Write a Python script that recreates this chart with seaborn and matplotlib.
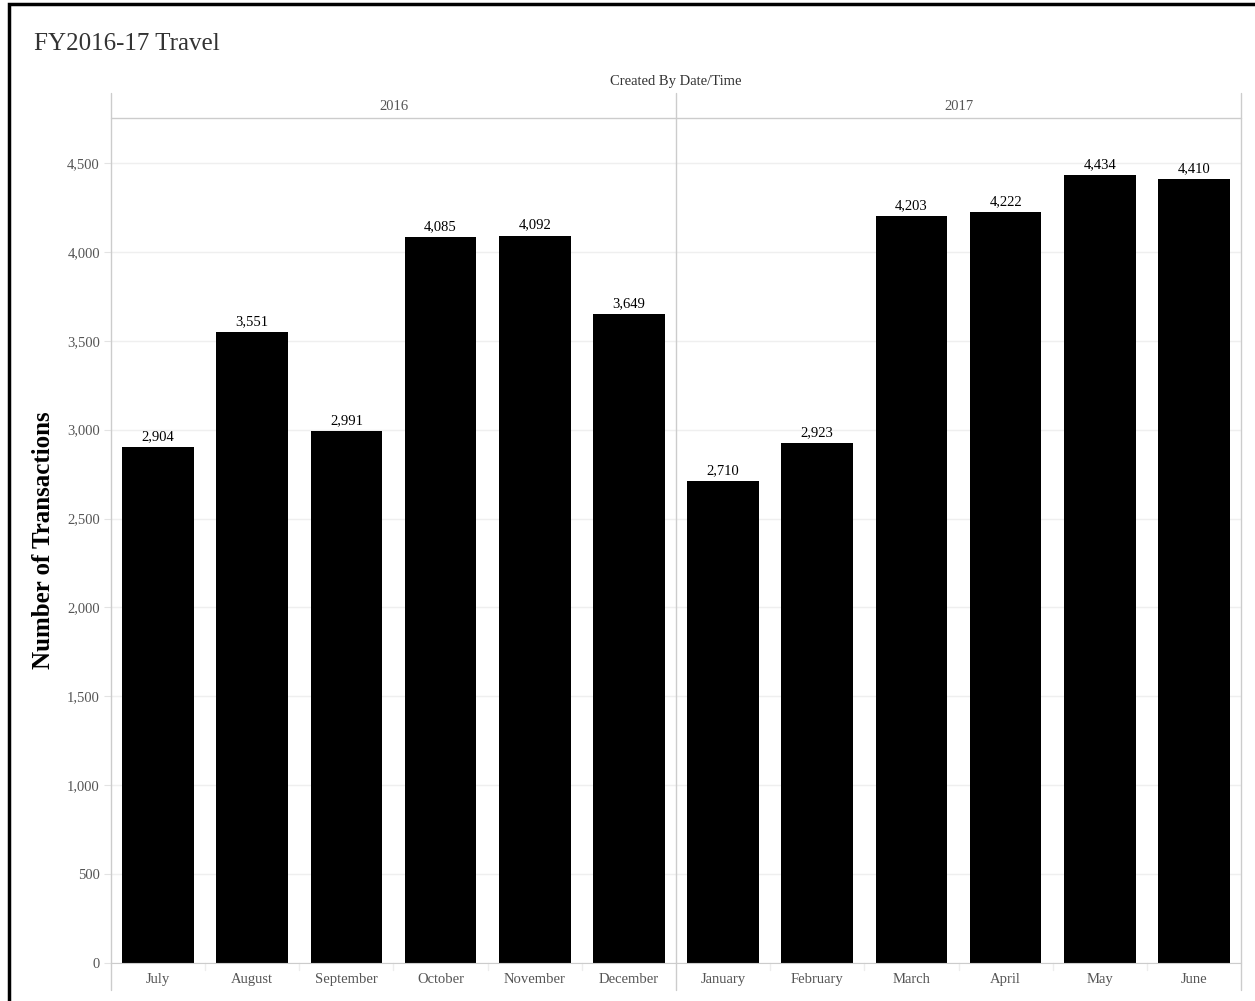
import pandas as pd
import numpy as np
import matplotlib
matplotlib.use('Agg')
import matplotlib.pyplot as plt
import seaborn as sns
from matplotlib.lines import Line2D
from matplotlib.patches import Rectangle

# data
months = ['July', 'August', 'September', 'October', 'November', 'December',
          'January', 'February', 'March', 'April', 'May', 'June']
years = ['2016'] * 6 + ['2017'] * 6
transactions = [2904, 3551, 2991, 4085, 4092, 3649,
                2710, 2923, 4203, 4222, 4434, 4410]
y_ticks = [0, 500, 1000, 1500, 2000, 2500, 3000, 3500, 4000, 4500]

df = pd.DataFrame({'Month': months, 'Year': years, 'Transactions': transactions})

sns.set_style('white')
plt.rcParams['font.family'] = ['Liberation Serif', 'DejaVu Serif']

W, H = 1255, 1001
fig = plt.figure(figsize=(W / 100, H / 100), dpi=100)

# plot area in pixel terms -> figure fractions
left_px, right_px, top_px, base_px = 111, 1241, 118, 963
ax = fig.add_axes([left_px / W, (H - base_px) / H,
                   (right_px - left_px) / W, (base_px - top_px) / H])

sns.barplot(data=df, x='Month', y='Transactions', color='black',
            width=0.76, saturation=1, ax=ax, order=months, linewidth=0)
ax.set_ylim(0, 4753)
ax.set_xlim(-0.5, 11.5)
ax.set_yticks(y_ticks)
ax.set_yticklabels([f'{v:,}' for v in y_ticks])
ax.yaxis.grid(True, color='#efefef', linewidth=1)
ax.set_axisbelow(True)
for s in ['top', 'right', 'left']:
    ax.spines[s].set_visible(False)
ax.spines['bottom'].set_color('#cccccc')
ax.tick_params(axis='y', length=5, color='#e3e3e3', labelsize=10.5,
               labelcolor='#555555', pad=3, left=True)
ax.tick_params(axis='x', length=0, labelsize=10.5, labelcolor='#555555', pad=7)
ax.set_xlabel('')
ax.set_ylabel('Number of Transactions', fontsize=18, fontweight='bold',
              color='black', labelpad=9)

# month separators under the axis
for b in np.arange(0.5, 11, 1):
    if b != 5.5:
        ax.add_line(Line2D([b, b], [-0.0, -0.008], transform=ax.get_xaxis_transform(),
                           color='#ededed', lw=1, clip_on=False))

# value labels
for i, v in enumerate(transactions):
    ax.text(i, v + 22, f'{v:,}', ha='center', va='bottom', fontsize=10.5, color='black')

# header / frame lines (axes coordinates)
bottom_ext = -(990 - base_px) / (base_px - top_px)
top_ext = 1 + (top_px - 93) / (base_px - top_px)
for x in [0, 0.5, 1]:
    ax.add_line(Line2D([x, x], [bottom_ext, top_ext], transform=ax.transAxes,
                       color='#cccccc', lw=1, clip_on=False))
ax.add_line(Line2D([0, 1], [1, 1], transform=ax.transAxes,
                   color='#cccccc', lw=1, clip_on=False))

# year headers
hdr_y = 1 + (top_px - 106) / (base_px - top_px)
ax.text(0.25, hdr_y, '2016', transform=ax.transAxes, ha='center', va='center',
        fontsize=10.5, color='#555555')
ax.text(0.75, hdr_y, '2017', transform=ax.transAxes, ha='center', va='center',
        fontsize=10.5, color='#555555')
fig.text(676 / W, 1 - 82 / H, 'Created By Date/Time', ha='center', va='center',
         fontsize=10.5, color='#333333')

# title
fig.text(34 / W, 1 - 44 / H, 'FY2016-17 Travel', ha='left', va='center',
         fontsize=18, color='#333333')

# outer black frame
fig.patches.append(Rectangle((9 / W, -0.01), 1.0, 1 - 4 / H + 0.01,
                             transform=fig.transFigure, fill=False,
                             edgecolor='black', linewidth=2.5))

fig.savefig('out.png', dpi=100)
